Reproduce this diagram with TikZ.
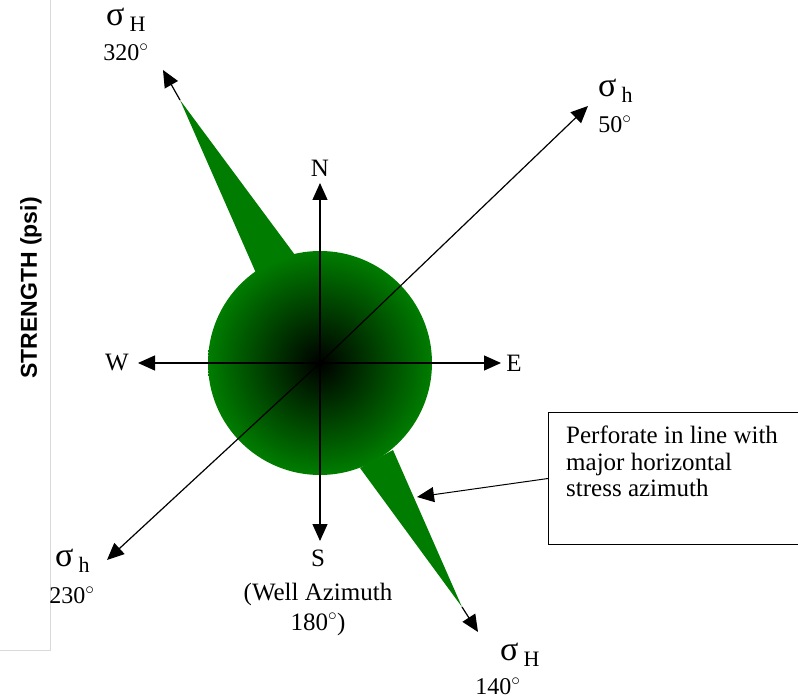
\documentclass[tikz,border=0pt]{standalone}
\usepackage{fontspec}
\setmainfont{Liberation Serif}
\setsansfont{Liberation Sans}
\usetikzlibrary{arrows.meta,positioning}
\definecolor{stressgreen}{RGB}{0,125,0}
\newcommand{\sublbl}[1]{\kern5pt\raisebox{-6pt}{\fontsize{22}{22}\selectfont #1}}

\begin{document}
\begin{tikzpicture}[x=1pt,y=-1pt,
    >={Triangle[length=17pt,width=15pt]},
    axis/.style={->,line width=1.2pt},
    lbl/.style={inner sep=0pt,font=\fontsize{24}{28}\selectfont},
    sig/.style={inner sep=0pt,anchor=base west,font=\fontsize{34}{36}\selectfont},
    notebox/.style={draw,line width=1pt,anchor=north west,minimum width=262pt,minimum height=132pt}]
  \useasboundingbox (0,0) rectangle (798,700);
  % left strip of the underlying chart
  \draw[black!15,line width=0.8pt] (50,0) -- (50,650) -- (0,650);
  \node[rotate=90,inner sep=0pt,font=\sffamily\bfseries\fontsize{23}{26}\selectfont] (strength) at (31,288) {STRENGTH (psi)};

  \coordinate (O) at (320,363);
  \coordinate (tipHn) at (163,70);
  \coordinate (tipHs) at (478,632);
  \coordinate (tiphn) at (588,106);
  \coordinate (tiphs) at (107,560);
  \coordinate (tipN) at (320,183);
  \coordinate (tipS) at (320,541);
  \coordinate (tipW) at (138,363);
  \coordinate (tipE) at (501,363);
  \coordinate (spikeN) at (180,100);
  \coordinate (spikeS) at (462,607);

  % green stress rose
  \fill[stressgreen] (256,273) -- (spikeN) -- (295,255) -- cycle;
  \fill[stressgreen] (360,468) -- (spikeS) -- (393,450) -- cycle;
  \shade[inner color=black,outer color=stressgreen] (O) circle[radius=112pt];

  \draw[axis] (O) -- (tipN);
  \draw[axis] (O) -- (tipS);
  \draw[axis] (O) -- (tipW);
  \draw[axis] (O) -- (tipE);
  \draw[axis] (spikeN) -- (tipHn);
  \draw[axis] (spikeS) -- (tipHs);
  \draw[axis] (O) -- (tiphn);
  \draw[axis] (O) -- (tiphs);

  \node[lbl,font=\fontsize{25}{28}\selectfont] (N) at (320,168) {N};
  \node[lbl,font=\fontsize{25}{28}\selectfont] (S) at (318,558) {S};
  \node[lbl,font=\fontsize{25}{28}\selectfont] (W) at (117,363) {W};
  \node[lbl,font=\fontsize{25}{28}\selectfont] (E) at (514,363) {E};
  \node[lbl,align=center,font=\fontsize{25}{30}\selectfont] (well) at (318,609) {(Well Azimuth\\180$^\circ$)};

  \node[sig] (sHn) at (106,26) {σ\sublbl{H}};
  \node[lbl] (aHn) at (126,52) {320$^\circ$};
  \node[sig] (shn) at (598,97) {σ\sublbl{h}};
  \node[lbl] (ahn) at (615,124) {50$^\circ$};
  \node[sig] (shs) at (55,566) {σ\sublbl{h}};
  \node[lbl] (ahs) at (72,595) {230$^\circ$};
  \node[sig] (sHs) at (500,660) {σ\sublbl{H}};
  \node[lbl] (aHs) at (498,686) {140$^\circ$};

  % callout
  \node[notebox] (note) at (548,412) {};
  \node[lbl,anchor=north west,align=left,font=\fontsize{25}{26.5}\selectfont] (notetext) at (566,426) {Perforate in line with\\major horizontal\\stress azimuth};
  \coordinate (perf) at (417,497);
  \draw[->,line width=1pt] (note.west) -- (perf);
\end{tikzpicture}
\end{document}
